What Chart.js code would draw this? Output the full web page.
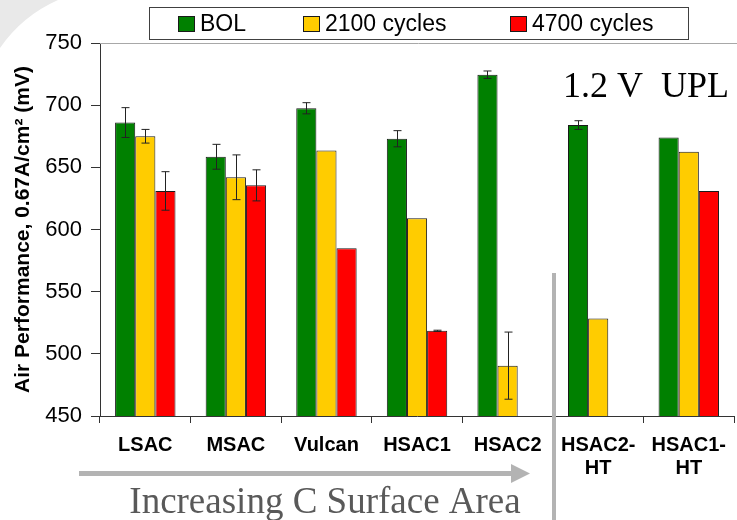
<!DOCTYPE html>
<html>
<head>
<meta charset="utf-8">
<script src="https://cdn.jsdelivr.net/npm/chart.js@4/dist/chart.umd.min.js"></script>
<style>
    html, body { margin: 0; padding: 0; background: #ffffff; }
    #wrap { width: 737px; height: 520px; }
</style>
</head>
<body>
<div id="wrap"><canvas id="airChart" width="737" height="520"></canvas></div>
<script>

// DATA

const categories = ['LSAC', 'MSAC', 'Vulcan', 'HSAC1', 'HSAC2', ['HSAC2-', 'HT'], ['HSAC1-', 'HT']];

const seriesNames = ['BOL', '2100 cycles', '4700 cycles'];

const bolValues = [686, 658.5, 697.5, 673, 724.5, 684, 674];
const cyc2100Values = [675, 642, 663.5, 609, 490.5, 528.5, 662.5];
const cyc4700Values = [631, 635.5, 585, 518.5, null, null, 631];

const bolErrors = [12, 10, 4.5, 6.5, 3, 3.5, 0];
const cyc2100Errors = [5.5, 18, 0, 0, 27, 0, 0];
const cyc4700Errors = [15.5, 12.5, 0, 0.5, 0, 0, 0];

const yTicks = [450, 500, 550, 600, 650, 700, 750];

const seriesColors = ['#008000', '#ffcc00', '#ff0000'];

// PLUGINS

const backdrop = {
    id: 'backdrop',
    beforeDraw(chart) {
        const ctx = chart.ctx;
        ctx.save();
        ctx.fillStyle = '#e9e9e9';
        ctx.beginPath();
        ctx.moveTo(0, 0);
        ctx.lineTo(58, 0);
        ctx.quadraticCurveTo(22, 16, 0, 48);
        ctx.closePath();
        ctx.fill();
        ctx.restore();
    }
};

const errorBars = {
    id: 'errorBars',
    afterDatasetsDraw(chart) {
        const ctx = chart.ctx;
        const y = chart.scales.y;
        ctx.save();
        ctx.strokeStyle = '#222222';
        ctx.lineWidth = 1;
        chart.data.datasets.forEach((ds, i) => {
            const meta = chart.getDatasetMeta(i);
            ds.errors.forEach((e, j) => {
                const v = ds.data[j];
                if (v == null || !e) return;
                const bar = meta.data[j];
                const x = Math.round(bar.x) + 0.5;
                const top = y.getPixelForValue(v + e);
                const bot = y.getPixelForValue(v - e);
                ctx.beginPath();
                ctx.moveTo(x, top);
                ctx.lineTo(x, bot);
                ctx.moveTo(x - 4, top);
                ctx.lineTo(x + 4, top);
                ctx.moveTo(x - 4, bot);
                ctx.lineTo(x + 4, bot);
                ctx.stroke();
            });
        });
        ctx.restore();
    }
};

const decorations = {
    id: 'decorations',
    afterDraw(chart) {
        const ctx = chart.ctx;
        const area = chart.chartArea;
        ctx.save();

        // top frame line
        ctx.strokeStyle = '#a8a8a8';
        ctx.lineWidth = 1;
        ctx.beginPath();
        ctx.moveTo(area.left, area.top + 0.5);
        ctx.lineTo(chart.width, area.top + 0.5);
        ctx.stroke();

        // legend
        ctx.fillStyle = '#ffffff';
        ctx.fillRect(149.5, 7.5, 539, 32);
        ctx.strokeStyle = '#404040';
        ctx.strokeRect(149.5, 7.5, 539, 32);
        const legendX = [178, 303, 510];
        ctx.font = '23px "Liberation Sans", Arial, sans-serif';
        ctx.textBaseline = 'middle';
        ctx.textAlign = 'left';
        chart.data.datasets.forEach((ds, i) => {
            ctx.fillStyle = ds.backgroundColor;
            ctx.fillRect(legendX[i] + 0.5, 16.5, 16, 15);
            ctx.strokeStyle = '#1a1a1a';
            ctx.strokeRect(legendX[i] + 0.5, 16.5, 16, 15);
            ctx.fillStyle = '#000000';
            ctx.fillText(ds.label, legendX[i] + 22, 25);
        });

        // 1.2 V UPL
        ctx.font = '36px "Liberation Serif", "Times New Roman", serif';
        ctx.textAlign = 'center';
        ctx.textBaseline = 'alphabetic';
        ctx.fillStyle = '#000000';
        ctx.fillText('1.2 V  UPL', 646, 97);

        // divider
        ctx.fillStyle = '#b3b3b3';
        ctx.fillRect(552, 273, 4, 247);

        // arrow
        ctx.fillRect(79, 471, 434, 5);
        ctx.beginPath();
        ctx.moveTo(511, 464);
        ctx.lineTo(530, 473.5);
        ctx.lineTo(511, 483);
        ctx.closePath();
        ctx.fill();

        ctx.font = '37px "Liberation Serif", "Times New Roman", serif';
        ctx.fillStyle = '#595959';
        ctx.fillText('Increasing C Surface Area', 325, 513);

        ctx.restore();
    }
};

// CHART

new Chart(document.getElementById('airChart'), {

    type: 'bar',

    data: {
        labels: categories,
        datasets: [
            { label: seriesNames[0], data: bolValues, errors: bolErrors, backgroundColor: seriesColors[0] },
            { label: seriesNames[1], data: cyc2100Values, errors: cyc2100Errors, backgroundColor: seriesColors[1] },
            { label: seriesNames[2], data: cyc4700Values, errors: cyc4700Errors, backgroundColor: seriesColors[2] },
        ].map(ds => Object.assign(ds, {
            borderColor: '#1a1a1a',
            borderWidth: 1,
            categoryPercentage: 0.667,
            barPercentage: 1,
        }))
    },

    options: {
        responsive: false,
        animation: false,
        devicePixelRatio: 1,
        layout: { padding: { top: 43, left: 0, right: 0, bottom: 0 } },

        plugins: {
            legend: { display: false },
            tooltip: { enabled: false }
        },

        scales: {
            x: {
                afterFit(scale) { scale.height = 104; },
                grid: {
                    offset: true,
                    drawOnChartArea: false,
                    tickLength: 7,
                    color: '#333333'
                },
                border: { color: '#333333', width: 1 },
                ticks: {
                    color: '#000000',
                    padding: 11,
                    maxRotation: 0,
                    autoSkip: false,
                    font: { family: '"Liberation Sans", Arial, sans-serif', size: 20, weight: 'bold', lineHeight: 1.15 }
                }
            },
            y: {
                min: 450,
                max: 750,
                afterFit(scale) { scale.width = 100; },
                afterBuildTicks(scale) { scale.ticks = yTicks.map(v => ({ value: v })); },
                grid: {
                    drawOnChartArea: false,
                    tickLength: 9,
                    color: '#333333'
                },
                border: { color: '#333333', width: 1 },
                ticks: {
                    color: '#000000',
                    padding: 9,
                    font: { family: '"Liberation Sans", Arial, sans-serif', size: 22 }
                },
                title: {
                    display: true,
                    text: 'Air Performance, 0.67A/cm\u00b2 (mV)',
                    color: '#000000',
                    padding: { top: 11, bottom: 0 },
                    font: { family: '"Liberation Sans", Arial, sans-serif', size: 21, weight: 'bold', lineHeight: 1.2 }
                }
            }
        }
    },

    plugins: [backdrop, errorBars, decorations]
});
</script>
</body>
</html>
